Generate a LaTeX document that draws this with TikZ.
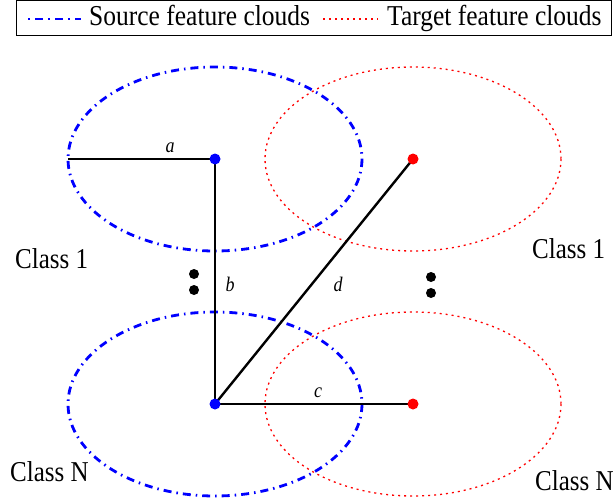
\documentclass[tikz,border=0pt]{standalone}
\usepackage{fontspec}
\setmainfont{Liberation Serif}
\newcommand{\tallA}[1]{\scalebox{1}[1.13]{#1}}
\newcommand{\tallB}[1]{\scalebox{1}[1.15]{#1}}
\begin{document}
\begin{tikzpicture}[x=1pt,y=-1pt,
  src/.style={draw=blue, line width=2.8pt, dash pattern=on 8pt off 5pt on 1.5pt off 5pt},
  tgt/.style={draw=red, line width=1.3pt, dash pattern=on 2pt off 4pt},
  edge/.style={draw=black, line width=2.4pt},
  lbl/.style={font=\fontsize{25.5}{30}\selectfont, inner sep=0pt, anchor=base west},
  clbl/.style={font=\fontsize{25}{30}\selectfont, inner sep=0pt, anchor=base west},
  elbl/.style={font=\fontsize{18}{22}\selectfont\itshape, inner sep=0pt},
  bdot/.style={circle, fill=blue, inner sep=0pt, minimum size=11pt},
  rdot/.style={circle, fill=red, inner sep=0pt, minimum size=11pt},
  kdot/.style={circle, fill=black, inner sep=0pt, minimum size=10pt}]
\useasboundingbox (0,0) rectangle (616,503);
% legend
\draw[line width=1pt] (16.5,1) rectangle (611,36);
\draw[src, dash pattern=on 2pt off 5pt on 8pt off 5pt] (28,19) -- (81,19);
\node[lbl] (l1) at (89,26) {\tallA{Source feature clouds}};
\draw[tgt] (323,19) -- (378,19);
\node[lbl] (l2) at (387,26) {\tallA{Target feature clouds}};
% ellipses
\draw[src] (215,159) ellipse [x radius=147, y radius=92];
\draw[tgt] (413,159) ellipse [x radius=148, y radius=92];
\draw[src] (215,404) ellipse [x radius=147, y radius=92];
\draw[tgt] (413,404) ellipse [x radius=148, y radius=92];
% points
\coordinate (e) at (68,159);
\coordinate (s1) at (215,159);
\coordinate (sn) at (215,404);
\coordinate (t1) at (413,159);
\coordinate (tn) at (413,404);
\draw[edge] (e) -- (s1);
\draw[edge] (s1) -- (sn);
\draw[edge] (sn) -- (t1);
\draw[edge] (sn) -- (tn);
\node[bdot] (ds1) at (s1) {};
\node[bdot] (dsn) at (sn) {};
\node[rdot] (dt1) at (t1) {};
\node[rdot] (dtn) at (tn) {};
% edge labels
\node[elbl] (la) at (170,148) {\tallB{a}};
\node[elbl] (lb) at (230,284) {\tallB{b}};
\node[elbl] (ld) at (338,284) {\tallB{d}};
\node[elbl] (lc) at (318,393) {\tallB{c}};
% vertical dots
\node[kdot] (k1) at (194,274) {};
\node[kdot] (k2) at (194,290) {};
\node[kdot] (k3) at (431,277) {};
\node[kdot] (k4) at (431,293) {};
% class labels
\node[clbl] (c1) at (15,268) {\tallB{Class 1}};
\node[clbl] (c2) at (532,258) {\tallB{Class 1}};
\node[clbl] (c3) at (10,481) {\tallB{Class N}};
\node[clbl] (c4) at (535,490) {\tallB{Class N}};
\end{tikzpicture}
\end{document}
